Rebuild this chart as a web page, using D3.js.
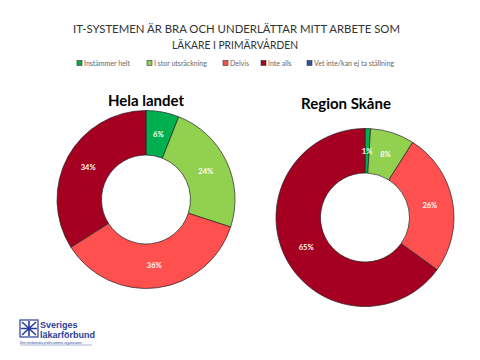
<!DOCTYPE html>
<html><head><meta charset="utf-8">
<script src="https://cdn.jsdelivr.net/npm/d3@7"></script>
<style>body{margin:0;background:#fff}svg{display:block}</style>
</head><body>
<script>
const categories = ["Instämmer helt","I stor utsräckning","Delvis","Inte alls","Vet inte/kan ej ta ställning"];
const colors = ["#00B050","#92D050","#FF5050","#A50021","#2E50A8"];
const helaLandet = [6,24,36,34,0];
const regionSkane = [1,8,26,65,0];
const titleLines = ["IT-SYSTEMEN ÄR BRA OCH UNDERLÄTTAR MITT ARBETE SOM","LÄKARE I PRIMÄRVÅRDEN"];
const chartTitles = ["Hela landet","Region Skåne"];

const W=480,H=360;
const svg=d3.select("body").append("svg").attr("width",W).attr("height",H);
const font="Lato, 'Open Sans', sans-serif";

svg.selectAll("text.title").data(titleLines).enter().append("text")
  .attr("x",(d,i)=>i===0?236.5:235).attr("y",(d,i)=>33+i*16).attr("text-anchor","middle")
  .attr("font-family",font).attr("font-size",11.5).attr("fill","#333")
  .attr("textLength",(d,i)=>i===0?327:126).attr("lengthAdjust","spacingAndGlyphs")
  .text(d=>d);

// legend
const legX=[77,147,223,261,307];
const leg=svg.append("g");
categories.forEach((c,i)=>{
  leg.append("rect").attr("x",legX[i]).attr("y",60.5).attr("width",5).attr("height",5)
    .attr("fill",colors[i]).attr("stroke","#333").attr("stroke-width",0.6);
  leg.append("text").attr("x",legX[i]+7).attr("y",66).attr("font-family",font)
    .attr("font-size",7).attr("fill","#666").text(c);
});

const pie=d3.pie().sort(null).value(d=>d);
const charts=[{data:helaLandet,cx:146,cy:199.5,tx:146,ty:106},{data:regionSkane,cx:365,cy:217.5,tx:346,ty:109}];
charts.forEach((ch,k)=>{
  const g=svg.append("g").attr("transform",`translate(${ch.cx},${ch.cy})`);
  const arc=d3.arc().innerRadius(44.5).outerRadius(89);
  const lab=d3.arc().innerRadius(66).outerRadius(66);
  const arcs=pie(ch.data).map((a,i)=>Object.assign(a,{i}));
  g.selectAll("path").data(arcs.filter(a=>a.data>0)).enter().append("path")
    .attr("d",arc).attr("fill",d=>colors[d.i]).attr("stroke","#222").attr("stroke-width",0.7);
  g.selectAll("text").data(arcs.filter(a=>a.data>0)).enter().append("text")
    .attr("transform",d=>`translate(${lab.centroid(d)})`)
    .attr("text-anchor","middle").attr("dy","0.35em")
    .attr("font-family",font).attr("font-weight","bold").attr("font-size",7.5)
    .attr("fill","#fff").text(d=>d.data+"%");
  svg.append("text").attr("x",ch.tx).attr("y",ch.ty).attr("text-anchor","middle")
    .attr("font-family",font).attr("font-weight","bold").attr("font-size",15)
    .attr("fill","#000").text(chartTitles[k]);
});

// logo
const logo=svg.append("g");
const blue="#2B3C9E";
logo.append("rect").attr("x",20).attr("y",320).attr("width",18).attr("height",17)
  .attr("fill","#fff").attr("stroke",blue).attr("stroke-width",1.2);
logo.append("path").attr("d","M22,322 L36,335 M36,322 L22,335 M29,321 L29,336 M21,328.5 L37,328.5")
  .attr("stroke",blue).attr("stroke-width",1.6);
logo.append("text").attr("x",40).attr("y",328).attr("font-family","Liberation Sans, Arial, sans-serif")
  .attr("font-weight","bold").attr("font-size",9).attr("fill",blue).text("Sveriges");
logo.append("text").attr("x",40).attr("y",337.5).attr("font-family","Liberation Sans, Arial, sans-serif")
  .attr("font-weight","bold").attr("font-size",9).attr("fill",blue).text("läkarförbund");
logo.append("text").attr("x",20).attr("y",343.5).attr("font-family","Liberation Sans, Arial, sans-serif")
  .attr("font-style","italic").attr("font-size",3.2).attr("fill",blue).text("Den medicinska professionens organisation");
logo.append("line").attr("x1",20).attr("x2",92).attr("y1",345).attr("y2",345).attr("stroke",blue).attr("stroke-width",0.4);
</script>
</body></html>
